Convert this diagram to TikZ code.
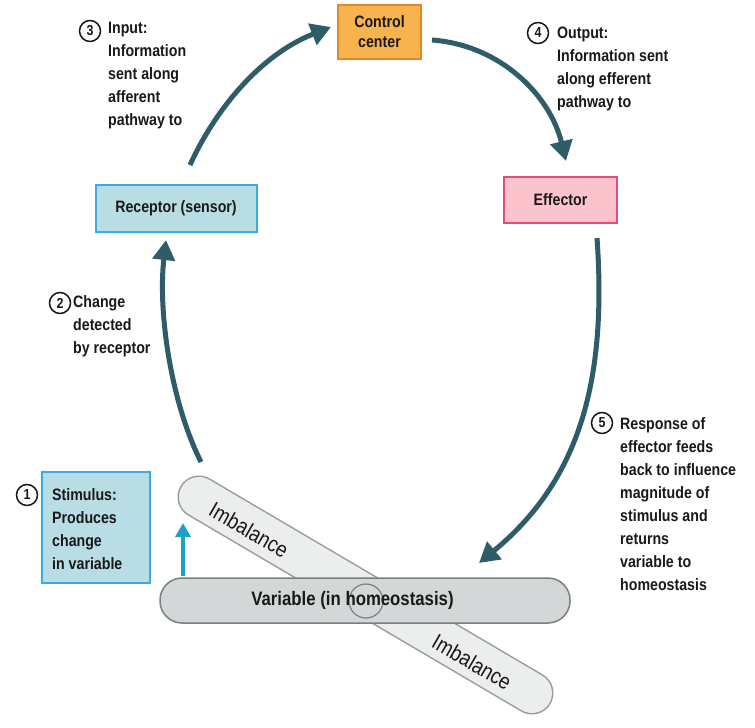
\documentclass[tikz,border=0pt]{standalone}
\usepackage{fontspec}
\setmainfont{Liberation Sans}[FakeStretch=0.86]
\usetikzlibrary{arrows.meta}

\definecolor{loopc}{RGB}{46,92,104}
\definecolor{ctrlfill}{RGB}{247,180,78}
\definecolor{ctrldraw}{RGB}{226,136,44}
\definecolor{bluefill}{RGB}{185,221,229}
\definecolor{bluedraw}{RGB}{58,172,226}
\definecolor{pinkfill}{RGB}{251,196,204}
\definecolor{pinkdraw}{RGB}{230,74,126}
\definecolor{varfill}{RGB}{212,215,215}
\definecolor{vardraw}{RGB}{120,128,128}
\definecolor{imbfill}{RGB}{236,237,237}
\definecolor{imbdraw}{RGB}{150,155,155}
\definecolor{stimc}{RGB}{27,161,199}
\definecolor{txt}{RGB}{25,25,25}

\tikzset{
  loop/.style={draw=loopc, line width=5pt, -{Triangle[width=22pt,length=20pt]}},
  box/.style={draw, line width=2pt, inner sep=0, text=txt,
    font=\fontsize{16.5}{20}\selectfont\bfseries, align=center},
  lbl/.style={font=\fontsize{16.5}{23}\selectfont\bfseries, align=left,
    anchor=west, inner sep=0, text=txt},
  num/.style={draw=txt, circle, line width=1.5pt, minimum size=21pt, inner sep=0,
    text=txt, font=\fontsize{14.5}{14.5}\selectfont\bfseries},
  imb/.style={font=\fontsize{22}{22}\selectfont, rotate=-30, inner sep=0, text=txt},
}

\begin{document}
\begin{tikzpicture}[x=1pt,y=-1pt]
  \useasboundingbox (0,0) rectangle (755,728);
  \fill[white] (0,0) rectangle (755,728);

  % diagonal imbalance bar (behind the variable bar)
  \coordinate (imbA) at (199,497);
  \coordinate (imbB) at (532,693);
  \draw[imbdraw, line width=43pt, line cap=round] (imbA) -- (imbB);
  \draw[imbfill, line width=40pt, line cap=round] (imbA) -- (imbB);
  \node[imb] (imb1) at (249,530) {Imbalance};
  \node[imb] (imb2) at (472,662) {Imbalance};

  % variable bar
  \node[draw=vardraw, fill=varfill, line width=1.5pt, rounded corners=22pt,
        minimum width=410pt, minimum height=45pt, inner sep=0] (var) at (365,600.5) {};
  \draw[vardraw, line width=1.2pt] (366,601) circle (17pt);
  \node[font=\fontsize{19.5}{20}\selectfont\bfseries, text=txt, inner sep=0] (vartxt)
        at (352.5,600) {Variable (in homeostasis)};

  % boxes
  \node[box, draw=ctrldraw, fill=ctrlfill, minimum width=83pt, minimum height=54pt]
        (ctrl) at (379.5,32) {Control\\center};
  \node[box, draw=bluedraw, fill=bluefill, minimum width=161pt, minimum height=47pt]
        (rec) at (176,208.5) {Receptor (sensor)};
  \node[box, draw=pinkdraw, fill=pinkfill, minimum width=113pt, minimum height=46pt]
        (eff) at (560.5,200) {Effector};
  \node[box, draw=bluedraw, fill=bluefill, minimum width=108pt, minimum height=111pt]
        (stim) at (96,527.5) {};

  % stimulus arrow
  \coordinate (stimA) at (183,576);
  \coordinate (stimB) at (183,523);
  \draw[stimc, line width=3.5pt, -{Triangle[width=15pt,length=14pt]}] (stimA) -- (stimB);

  % feedback loop connectors
  \coordinate (a0) at (201,462);
  \coordinate (a1) at (166,240);
  \coordinate (b0) at (190,165);
  \coordinate (b1) at (331,27);
  \coordinate (c0) at (432,40);
  \coordinate (c1) at (566,161);
  \coordinate (d0) at (597,238);
  \coordinate (d1) at (479,563);
  \draw[loop] (a0) .. controls (170,400) and (158,310) .. (a1);
  \draw[loop] (b0) .. controls (215,110) and (260,55) .. (b1);
  \draw[loop] (c0) .. controls (500,45) and (550,95) .. (c1);
  \draw[loop] (d0) .. controls (607,380) and (580,480) .. (d1);

  % numbered labels
  \node[num] (n1) at (27,495) {1};
  \node[lbl] (t1) at (52,529.5) {Stimulus:\\Produces\\change\\in variable};
  \node[num] (n2) at (60,303) {2};
  \node[lbl] (t2) at (73,326.5) {Change\\detected\\by receptor};
  \node[num] (n3) at (90,31) {3};
  \node[lbl] (t3) at (108,76) {Input:\\Information\\sent along\\afferent\\pathway to};
  \node[num] (n4) at (538,33) {4};
  \node[lbl] (t4) at (557,68.5) {Output:\\Information sent\\along efferent\\pathway to};
  \node[num] (n5) at (602,423) {5};
  \node[lbl] (t5) at (620,504.5) {Response of\\effector feeds\\back to influence\\magnitude of\\stimulus and\\returns\\variable to\\homeostasis};
\end{tikzpicture}
\end{document}
